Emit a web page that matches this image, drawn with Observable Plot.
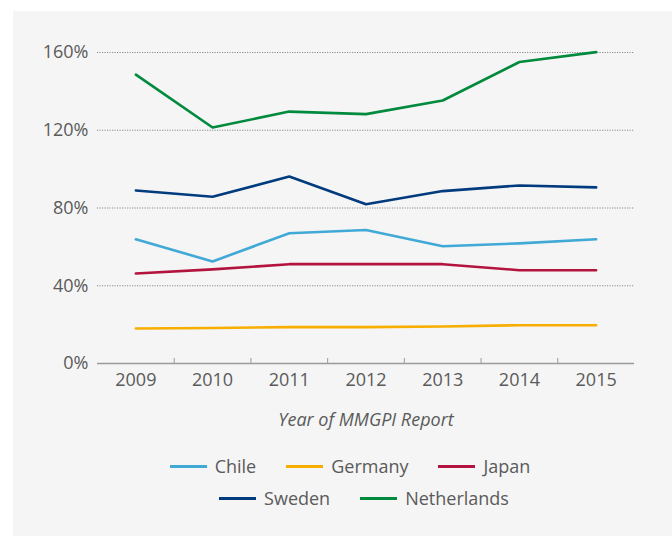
<!DOCTYPE html>
<html><head><meta charset="utf-8">
<script src="https://cdn.jsdelivr.net/npm/d3@7"></script>
<script src="https://cdn.jsdelivr.net/npm/@observablehq/plot@0.6"></script>
<style>
body{margin:0;background:#fff;font-family:"Open Sans",sans-serif;}
#panel{position:absolute;left:13px;top:11px;width:659px;height:525px;background:#f5f5f5;color:#5a5a5a;}
#panel svg{display:block;}
g[aria-label="x-axis label"] text{font-style:italic;}
#legend{margin-top:4px;}
.legend-row{display:flex;justify-content:center;align-items:center;font-size:18px;color:#5a5a5a;height:32px;}
.item{display:flex;align-items:center;margin:0 15px;}
.sw{width:37px;height:3px;margin-right:8px;}
</style></head><body>
<div id="panel"><div id="chart"></div><div id="legend"></div></div>
<script>
const years = [2009, 2010, 2011, 2012, 2013, 2014, 2015];
const countries = ["Chile", "Germany", "Japan", "Sweden", "Netherlands"];
const chile = [63.9, 52.5, 67.0, 68.7, 60.3, 61.8, 63.9];
const germany = [18.0, 18.3, 18.7, 18.7, 19.0, 19.7, 19.7];
const japan = [46.3, 48.4, 51.1, 51.1, 51.1, 48.0, 48.0];
const sweden = [89.0, 85.8, 96.2, 81.9, 88.7, 91.6, 90.6];
const netherlands = [148.6, 121.4, 129.6, 128.3, 135.3, 155.1, 160.2];
const colors = ["#41a9d5", "#f7ae00", "#b3143f", "#003b7d", "#008a3e"];
const yTicks = [0, 40, 80, 120, 160];

const series = [chile, germany, japan, sweden, netherlands];
const data = countries.flatMap((c, i) => years.map((yr, j) => ({country: c, year: yr, value: series[i][j]})));
const boundaries = years.slice(1).map(y => y - 0.5);

const chart = Plot.plot({
  width: 659, height: 435,
  marginLeft: 84, marginRight: 38, marginTop: 41, marginBottom: 83,
  style: {fontFamily: '"Open Sans", sans-serif', fontSize: "17px", background: "transparent", color: "#5a5a5a"},
  x: {type: "linear", domain: [years[0] - 0.5, years[years.length - 1] + 0.5]},
  y: {domain: [0, 160]},
  color: {domain: countries, range: colors},
  marks: [
    Plot.gridY(yTicks.slice(1), {stroke: "#8a8a8a", strokeOpacity: 1, strokeDasharray: "1.2,1.3"}),
    Plot.ruleY([0], {stroke: "#9a9a9a", strokeWidth: 1.5}),
    Plot.axisX(boundaries, {tickSize: -5, tickFormat: () => "", stroke: "#9a9a9a", label: null}),
    Plot.axisX(years, {tickSize: 0, tickPadding: 10, tickFormat: d => String(d), fontSize: 18,
      label: "Year of MMGPI Report", labelAnchor: "center", labelArrow: "none", labelOffset: 62}),
    Plot.axisY(yTicks, {tickSize: 0, tickPadding: 9, tickFormat: d => d + "%", fontSize: 18, label: null}),
    Plot.line(data, {x: "year", y: "value", z: "country", stroke: "country", strokeWidth: 2.6})
  ]
});
document.getElementById("chart").appendChild(chart);

const rows = [[0, 1, 2], [3, 4]];
const pads = [15, 43];
const legend = document.getElementById("legend");
rows.forEach((r, ri) => {
  const row = document.createElement("div");
  row.className = "legend-row";
  row.style.paddingLeft = pads[ri] + "px";
  r.forEach(i => {
    const it = document.createElement("div");
    it.className = "item";
    const sw = document.createElement("span");
    sw.className = "sw";
    sw.style.background = colors[i];
    const t = document.createElement("span");
    t.textContent = countries[i];
    it.appendChild(sw); it.appendChild(t);
    row.appendChild(it);
  });
  legend.appendChild(row);
});
</script>
</body></html>
